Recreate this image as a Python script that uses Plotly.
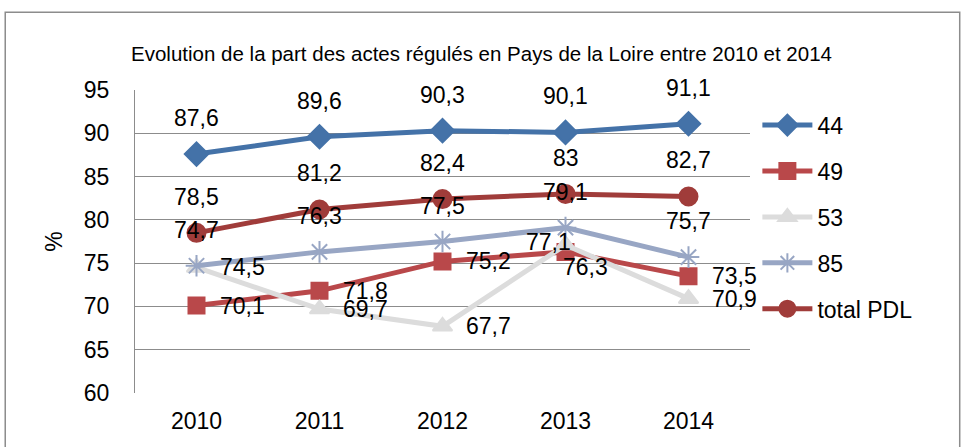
import plotly.graph_objects as go

years = ["2010", "2011", "2012", "2013", "2014"]
s44 = [87.6, 89.6, 90.3, 90.1, 91.1]
s49 = [70.1, 71.8, 75.2, 76.3, 73.5]
s53 = [74.5, 69.7, 67.7, 77.1, 70.9]
s85 = [74.7, 76.3, 77.5, 79.1, 75.7]
total = [78.5, 81.2, 82.4, 83.0, 82.7]

def lab(v):
    s = ("%.1f" % v).replace(".", ",")
    return s[:-2] if s.endswith(",0") else s

FONT = "Liberation Sans, Arial, sans-serif"

UP = (0, 36)
RIGHT = (46, 0)
# label offsets in pixels (dx, dy) for each point of each series
series = [
    ("44", s44, "#4472A8", "diamond", 18, [UP] * 5),
    ("49", s49, "#B9484A", "square", 16, [RIGHT, RIGHT, RIGHT, (20, -15), RIGHT]),
    ("53", s53, "#DCDCDC", "triangle-up", 17, [RIGHT, RIGHT, RIGHT, (-17, 3), RIGHT]),
    ("85", s85, "#98A6C4", "asterisk-open", 18, [UP] * 5),
    ("total PDL", total, "#A03C3A", "circle", 18, [UP] * 5),
]

fig = go.Figure()
annotations = []
for i, (name, ys, col, sym, sz, offs) in enumerate(series):
    fig.add_trace(go.Scatter(
        x=years, y=ys, name=name, mode="lines+markers",
        line=dict(color=col, width=5),
        marker=dict(symbol=sym, size=sz, color=col, line=dict(color=col, width=2)),
        legendgroup="g%d" % i, cliponaxis=False,
    ))
for i, (name, ys, col, sym, sz, offs) in enumerate(series):
    for j, (y, (dx, dy)) in enumerate(zip(ys, offs)):
        annotations.append(dict(
            x=j, y=y, xref="x", yref="y", text=lab(y), showarrow=False,
            xanchor="center", yanchor="middle", xshift=dx, yshift=dy,
            font=dict(family=FONT, size=23, color="#000000"),
        ))

fig.update_layout(
    width=963, height=447,
    margin=dict(l=135, r=213, t=90, b=54),
    paper_bgcolor="white", plot_bgcolor="white",
    font=dict(family=FONT, size=23, color="#000000"),
    title=dict(text="Evolution de la part des actes régulés en Pays de la Loire entre 2010 et 2014",
               font=dict(family="Liberation Sans Narrow, Liberation Sans, sans-serif", size=20.5, color="#000000"),
               x=0.5, xref="container", xanchor="center", y=0.88, yanchor="middle"),
    showlegend=True,
    legend=dict(x=1.012, y=0.955, xanchor="left", yanchor="top",
                font=dict(family=FONT, size=23, color="#000000"),
                traceorder="grouped", tracegroupgap=13, itemwidth=50,
                bgcolor="rgba(0,0,0,0)"),
    xaxis=dict(type="category", showgrid=False, showline=False, ticks="", ticklabelstandoff=12,
               range=[-0.5, 4.5],
               tickfont=dict(size=23), automargin=False),
    yaxis=dict(range=[60, 95], dtick=5, showgrid=True, gridcolor="#8C8C8C", gridwidth=1,
               showline=True, linecolor="#8C8C8C", linewidth=1, ticks="",
               zeroline=False, ticklabelstandoff=20, tickfont=dict(size=23),
               automargin=False,
               title=dict(text="%", font=dict(size=23), standoff=14)),
    annotations=annotations,
    shapes=[dict(type="rect", xref="paper", yref="paper",
                 x0=-0.211, x1=1.341, y0=-0.25, y1=1.257,
                 line=dict(color="#8C8C8C", width=1.5), fillcolor="rgba(0,0,0,0)",
                 layer="below")],
)

fig.write_html("out.html", config={"displayModeBar": False},
               post_script="document.body.style.margin='0px';")
